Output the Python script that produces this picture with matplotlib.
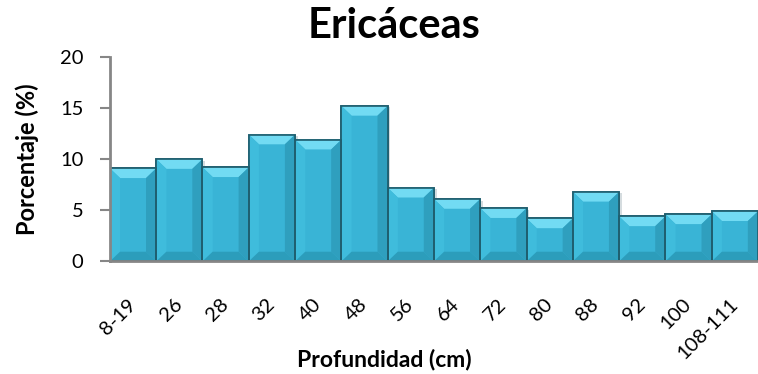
import matplotlib.pyplot as plt
import numpy as np
from matplotlib.patches import Polygon, Rectangle

plt.rcParams['font.family'] = ['Lato', 'DejaVu Sans']

profundidad = ['8-19', '26', '28', '32', '40', '48', '56', '64', '72', '80',
               '88', '92', '100', '108-111']
porcentaje = [9.1, 10.0, 9.2, 12.4, 11.9, 15.2, 7.2, 6.1, 5.2, 4.2,
              6.8, 4.4, 4.6, 4.9]

fig = plt.figure(figsize=(7.58, 3.74), dpi=100)
ax = fig.add_axes([0.145, 0.301, 0.855, 0.547])

x = np.arange(len(porcentaje))
w = 1.0
bx = 0.22   # bevel width, in bar-width units
by = 0.95   # bevel height, in data units

for xi, h in zip(x, porcentaje):
    x0, x1 = xi - w / 2, xi + w / 2
    # drop shadow
    ax.add_patch(Rectangle((x0 + 0.06, 0), w, h - 0.15, color='#b9c6cb',
                           alpha=0.6, zorder=1, lw=0))
    ax.add_patch(Rectangle((x0, 0), w, h, facecolor='#39b4d6',
                           edgecolor='#1f5e6e', lw=1.2, zorder=2))
    b = min(by, h / 3)
    # bevel faces: top, left, right, bottom
    ax.add_patch(Polygon([(x0, h), (x1, h), (x1 - bx, h - b), (x0 + bx, h - b)],
                         closed=True, facecolor='#72dbf3', lw=0, zorder=3))
    ax.add_patch(Polygon([(x0, h), (x0 + bx, h - b), (x0 + bx, b), (x0, 0)],
                         closed=True, facecolor='#3fbcdc', lw=0, zorder=3))
    ax.add_patch(Polygon([(x1, h), (x1 - bx, h - b), (x1 - bx, b), (x1, 0)],
                         closed=True, facecolor='#2f9fbe', lw=0, zorder=3))
    ax.add_patch(Polygon([(x0, 0), (x1, 0), (x1 - bx, b), (x0 + bx, b)],
                         closed=True, facecolor='#2c9dbb', lw=0, zorder=3))
    ax.add_patch(Rectangle((x0, 0), w, h, facecolor='none',
                           edgecolor='#1f5e6e', lw=1.2, zorder=4))

ax.set_xlim(-0.5, len(porcentaje) - 0.5)
ax.set_ylim(0, 20)
ax.set_yticks([0, 5, 10, 15, 20])
ax.set_xticks(x)
ax.set_xticklabels(profundidad, rotation=45, ha='right', va='center',
                   rotation_mode='anchor')

for s in ['top', 'right']:
    ax.spines[s].set_visible(False)
for s in ['left', 'bottom']:
    ax.spines[s].set_color('#868686')
    ax.spines[s].set_linewidth(2)
    ax.spines[s].set_zorder(5)

ax.tick_params(axis='y', length=7, width=1.5, color='#868686',
               labelsize=14.5, pad=12)
ax.tick_params(axis='x', length=0, labelsize=14.5, pad=29)

ax.set_ylabel('Porcentaje (%)', fontsize=17, fontweight='bold', labelpad=15)
ax.set_xlabel('Profundidad (cm)', fontsize=16.5, fontweight='bold')
ax.xaxis.set_label_coords(0.424, -0.425)
fig.text(0.52, 0.898, 'Ericáceas', fontsize=30, fontweight='bold',
         ha='center', va='baseline')

fig.savefig('out.png', dpi=100)
